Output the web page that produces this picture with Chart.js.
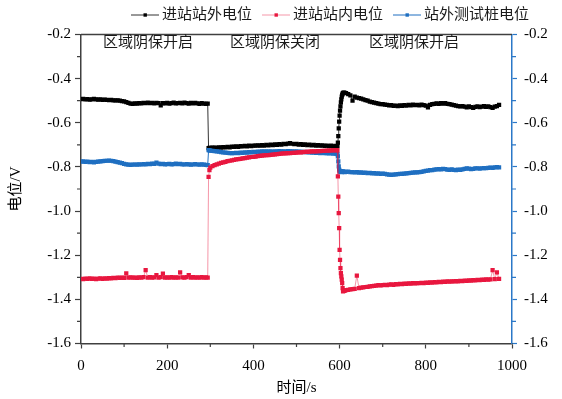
<!DOCTYPE html>
<html>
<head>
<meta charset="utf-8">
<script src="https://cdn.jsdelivr.net/npm/chart.js@4/dist/chart.umd.min.js"></script>
<style>
  body { margin: 0; background: #fff; }
  canvas { display: block; }
</style>
</head>
<body>
<canvas id="chart" width="562" height="399"></canvas>
<script>
// time in seconds, shared by all three series
const times = [
  0,5,10,15,20,25,30,35,40,45,
  50,55,60,65,70,75,80,85,90,95,
  100,105,110,115,120,125,130,135,140,145,
  150,155,160,165,170,175,180,185,190,195,
  200,205,210,215,220,225,230,235,240,245,
  250,255,260,265,270,275,280,285,290,
  294,296,298,
  300,305,310,315,320,325,330,335,340,345,
  350,355,360,365,370,375,380,385,390,395,
  400,405,410,415,420,425,430,435,440,445,
  450,455,460,465,470,475,480,485,490,495,
  500,505,510,515,520,525,530,535,540,545,
  550,555,560,565,570,575,580,585,590,
  593,595,596,597,598,599,600,601,602,603,604,605,606,607,608,610,612,615,
  620,625,630,635,640,645,650,655,660,665,
  670,675,680,685,690,695,700,705,710,715,
  720,725,730,735,740,745,750,755,760,765,
  770,775,780,785,790,795,800,805,810,815,
  820,825,830,835,840,845,850,855,860,865,
  870,875,880,885,890,895,900,905,910,915,
  920,925,930,935,940,945,950,955,960,965,
  970
];

// 进站站外电位
const outsideValues = [
  -0.493,-0.492,-0.494,-0.493,-0.495,-0.494,-0.492,-0.494,-0.495,-0.494,
  -0.496,-0.495,-0.496,-0.497,-0.496,-0.498,-0.499,-0.498,-0.500,-0.502,
  -0.503,-0.506,-0.510,-0.513,-0.514,-0.512,-0.513,-0.511,-0.512,-0.510,
  -0.511,-0.509,-0.511,-0.510,-0.512,-0.510,-0.511,-0.521,-0.511,-0.512,
  -0.510,-0.513,-0.511,-0.509,-0.512,-0.511,-0.510,-0.512,-0.509,-0.511,
  -0.513,-0.510,-0.512,-0.510,-0.512,-0.514,-0.511,-0.513,-0.514,
  -0.513,-0.715,-0.714,
  -0.714,-0.713,-0.712,-0.714,-0.711,-0.712,-0.710,-0.711,-0.709,-0.711,
  -0.708,-0.709,-0.707,-0.709,-0.706,-0.707,-0.705,-0.707,-0.704,-0.706,
  -0.703,-0.704,-0.702,-0.704,-0.701,-0.703,-0.700,-0.702,-0.699,-0.701,
  -0.698,-0.700,-0.697,-0.699,-0.695,-0.697,-0.694,-0.692,-0.695,-0.697,
  -0.696,-0.699,-0.697,-0.700,-0.698,-0.701,-0.699,-0.702,-0.700,-0.703,
  -0.701,-0.704,-0.702,-0.705,-0.703,-0.706,-0.704,-0.707,-0.705,
  -0.707,-0.706,-0.690,-0.660,-0.625,-0.595,-0.568,-0.545,-0.526,-0.508,-0.494,-0.482,-0.474,-0.468,-0.465,-0.463,-0.464,-0.466,
  -0.470,-0.476,-0.500,-0.482,-0.486,-0.488,-0.491,-0.494,-0.497,-0.500,
  -0.504,-0.506,-0.509,-0.511,-0.513,-0.515,-0.516,-0.518,-0.519,-0.521,
  -0.520,-0.523,-0.522,-0.524,-0.521,-0.523,-0.520,-0.522,-0.519,-0.521,
  -0.518,-0.520,-0.519,-0.521,-0.518,-0.520,-0.522,-0.530,-0.519,-0.516,
  -0.514,-0.512,-0.514,-0.511,-0.513,-0.511,-0.514,-0.516,-0.518,-0.520,
  -0.522,-0.524,-0.526,-0.524,-0.527,-0.530,-0.526,-0.529,-0.532,-0.528,
  -0.526,-0.529,-0.527,-0.525,-0.528,-0.526,-0.529,-0.533,-0.527,-0.524,
  -0.519
];

// 进站站内电位
const insideValues = [
  -1.307,-1.308,-1.306,-1.307,-1.305,-1.307,-1.306,-1.308,-1.306,-1.305,
  -1.307,-1.305,-1.306,-1.304,-1.305,-1.303,-1.304,-1.302,-1.303,-1.301,
  -1.303,-1.282,-1.302,-1.300,-1.302,-1.301,-1.303,-1.300,-1.302,-1.299,
  -1.268,-1.301,-1.299,-1.302,-1.300,-1.290,-1.301,-1.299,-1.283,-1.301,
  -1.300,-1.302,-1.299,-1.301,-1.300,-1.302,-1.278,-1.300,-1.302,-1.299,
  -1.290,-1.301,-1.299,-1.302,-1.300,-1.301,-1.299,-1.301,-1.300,
  -1.301,-0.845,-0.815,
  -0.803,-0.796,-0.792,-0.788,-0.785,-0.782,-0.779,-0.777,-0.774,-0.772,
  -0.770,-0.768,-0.766,-0.765,-0.763,-0.761,-0.760,-0.758,-0.757,-0.755,
  -0.754,-0.753,-0.751,-0.750,-0.749,-0.748,-0.747,-0.746,-0.745,-0.744,
  -0.743,-0.742,-0.741,-0.740,-0.739,-0.739,-0.738,-0.737,-0.736,-0.736,
  -0.735,-0.734,-0.734,-0.733,-0.732,-0.732,-0.731,-0.730,-0.730,-0.729,
  -0.728,-0.728,-0.727,-0.727,-0.726,-0.726,-0.725,-0.725,-0.724,
  -0.724,-0.725,-0.843,-0.934,-1.009,-1.077,-1.176,-1.221,-1.259,-1.281,-1.296,-1.311,-1.326,-1.349,-1.364,-1.362,-1.360,-1.358,
  -1.357,-1.355,-1.354,-1.352,-1.292,-1.349,-1.347,-1.346,-1.344,-1.343,
  -1.341,-1.340,-1.339,-1.338,-1.336,-1.337,-1.335,-1.334,-1.335,-1.333,
  -1.332,-1.334,-1.331,-1.332,-1.330,-1.331,-1.329,-1.330,-1.328,-1.329,
  -1.327,-1.328,-1.326,-1.327,-1.325,-1.326,-1.324,-1.325,-1.323,-1.324,
  -1.322,-1.323,-1.321,-1.322,-1.320,-1.321,-1.319,-1.320,-1.318,-1.319,
  -1.317,-1.318,-1.316,-1.317,-1.315,-1.316,-1.314,-1.315,-1.313,-1.314,
  -1.312,-1.313,-1.311,-1.312,-1.310,-1.311,-1.309,-1.268,-1.308,-1.278,
  -1.307
];

// 站外测试桩电位
const pileValues = [
  -0.776,-0.775,-0.777,-0.776,-0.778,-0.777,-0.779,-0.777,-0.776,-0.775,
  -0.774,-0.773,-0.772,-0.771,-0.772,-0.774,-0.776,-0.778,-0.781,-0.783,
  -0.786,-0.788,-0.790,-0.791,-0.790,-0.789,-0.790,-0.788,-0.789,-0.787,
  -0.788,-0.786,-0.787,-0.785,-0.786,-0.780,-0.785,-0.787,-0.786,-0.788,
  -0.787,-0.786,-0.788,-0.787,-0.785,-0.787,-0.786,-0.788,-0.789,-0.787,
  -0.788,-0.790,-0.789,-0.787,-0.789,-0.790,-0.788,-0.790,-0.791,
  -0.792,-0.724,-0.725,
  -0.726,-0.727,-0.728,-0.730,-0.731,-0.733,-0.734,-0.735,-0.736,-0.737,
  -0.738,-0.737,-0.736,-0.737,-0.735,-0.736,-0.734,-0.735,-0.733,-0.734,
  -0.732,-0.733,-0.731,-0.732,-0.730,-0.731,-0.729,-0.731,-0.730,-0.732,
  -0.729,-0.731,-0.728,-0.730,-0.729,-0.731,-0.728,-0.730,-0.729,-0.731,
  -0.730,-0.732,-0.731,-0.733,-0.732,-0.734,-0.733,-0.735,-0.734,-0.736,
  -0.735,-0.737,-0.736,-0.738,-0.737,-0.739,-0.738,-0.740,-0.739,
  -0.740,-0.742,-0.752,-0.775,-0.798,-0.812,-0.818,-0.821,-0.820,-0.822,-0.821,-0.823,-0.822,-0.820,-0.822,-0.821,-0.823,-0.822,
  -0.821,-0.823,-0.824,-0.825,-0.824,-0.826,-0.825,-0.827,-0.826,-0.828,
  -0.827,-0.829,-0.828,-0.830,-0.829,-0.831,-0.830,-0.832,-0.834,-0.835,
  -0.836,-0.835,-0.834,-0.833,-0.832,-0.831,-0.830,-0.829,-0.828,-0.827,
  -0.826,-0.825,-0.825,-0.824,-0.822,-0.820,-0.818,-0.817,-0.815,-0.814,
  -0.812,-0.811,-0.810,-0.811,-0.809,-0.810,-0.812,-0.813,-0.811,-0.813,
  -0.814,-0.812,-0.813,-0.811,-0.809,-0.807,-0.808,-0.810,-0.809,-0.807,
  -0.806,-0.808,-0.806,-0.805,-0.806,-0.804,-0.803,-0.804,-0.802,-0.801,
  -0.802
];

const seriesLabels = ['进站站外电位', '进站站内电位', '站外测试桩电位'];
const zoneLabels = ['区域阴保开启', '区域阴保关闭', '区域阴保开启'];
const xTickValues = [0, 200, 400, 600, 800, 1000];
const yTickValues = [-1.6, -1.4, -1.2, -1.0, -0.8, -0.6, -0.4, -0.2];

const seriesColors = ['#000000', '#e8173f', '#1f6fc1'];
const lineColors = ['#333333', 'rgba(232,23,63,0.45)', '#1f6fc1'];
const axisColor = '#404040';
const rightAxisColor = '#2b78c8';
const cjkFont = '"Liberation Serif", "Noto Sans CJK SC"';

function makeSeries(values, i, order) {
    return {
        label: seriesLabels[i],
        data: times.map((t, k) => ({ x: t, y: values[k] })),
        borderColor: lineColors[i],
        borderWidth: 1,
        backgroundColor: seriesColors[i],
        pointStyle: 'rect',
        pointRadius: 3,
        pointBorderWidth: 0,
        pointBackgroundColor: seriesColors[i],
        order: order,
    };
}

// minor ticks, top frame, zone labels and the legend
const extras = {
    id: 'extras',
    afterDraw(chart) {
        const ctx = chart.ctx;
        const area = chart.chartArea;
        const x = chart.scales.x;
        const y = chart.scales.y;
        ctx.save();

        ctx.strokeStyle = axisColor;
        ctx.lineWidth = 1.5;
        ctx.beginPath();
        ctx.moveTo(area.left, area.top);
        ctx.lineTo(area.right, area.top);
        ctx.stroke();

        ctx.lineWidth = 1.2;
        ctx.beginPath();
        for (let v = 100; v < 1000; v += 200) {
            const px = x.getPixelForValue(v);
            ctx.moveTo(px, area.bottom);
            ctx.lineTo(px, area.bottom + 3.5);
        }
        for (let v = -1.5; v < -0.2; v += 0.2) {
            const py = y.getPixelForValue(v);
            ctx.moveTo(area.left - 4, py);
            ctx.lineTo(area.left, py);
        }
        ctx.stroke();

        ctx.strokeStyle = rightAxisColor;
        ctx.beginPath();
        for (let v = -1.5; v < -0.2; v += 0.2) {
            const py = y.getPixelForValue(v);
            ctx.moveTo(area.right, py);
            ctx.lineTo(area.right + 4, py);
        }
        ctx.stroke();

        ctx.fillStyle = '#1a1a1a';
        ctx.font = '15px ' + cjkFont;
        ctx.textBaseline = 'middle';
        const zoneX = [103, 230, 369];
        zoneLabels.forEach((txt, i) => ctx.fillText(txt, zoneX[i], 43.5));

        const legendX = [131, 262, 393];
        seriesLabels.forEach((txt, i) => {
            const lx = legendX[i];
            ctx.strokeStyle = lineColors[i];
            ctx.lineWidth = 1;
            ctx.beginPath();
            ctx.moveTo(lx, 15);
            ctx.lineTo(lx + 28, 15);
            ctx.stroke();
            ctx.fillStyle = seriesColors[i];
            ctx.fillRect(lx + 12.5, 13.3, 3.4, 3.4);
            ctx.fillStyle = '#1a1a1a';
            ctx.fillText(txt, lx + 31, 15.5);
        });
        ctx.restore();
    }
};

new Chart(document.getElementById('chart'), {
    type: 'line',
    data: {
        datasets: [
            makeSeries(outsideValues, 0, 2),
            makeSeries(insideValues, 1, 0),
            makeSeries(pileValues, 2, 1),
        ]
    },
    options: {
        responsive: false,
        animation: false,
        layout: { padding: { top: 34.5, left: 0, right: 0, bottom: 0 } },
        plugins: { legend: { display: false }, tooltip: { enabled: false } },
        scales: {
            x: {
                type: 'linear',
                min: 0,
                max: 1000,
                afterBuildTicks: s => { s.ticks = xTickValues.map(v => ({ value: v })); },
                afterFit: s => { s.height = 55.5; },
                ticks: { color: '#000', padding: 9, font: { family: '"Liberation Serif"', size: 15 }, callback: v => String(v) },
                grid: { drawOnChartArea: false, tickLength: 5, tickWidth: 1.2, tickColor: axisColor },
                border: { color: axisColor, width: 1.5 },
                title: { display: true, text: '时间/s', color: '#000', font: { family: cjkFont, size: 15 }, padding: { top: 0, bottom: 2 } },
            },
            y: {
                position: 'left',
                min: -1.6,
                max: -0.2,
                afterBuildTicks: s => { s.ticks = yTickValues.map(v => ({ value: v })); },
                afterFit: s => { s.width = 81; },
                ticks: { color: '#000', padding: 4, font: { family: '"Liberation Serif"', size: 15 }, callback: v => v.toFixed(1) },
                grid: { drawOnChartArea: false, tickLength: 6, tickWidth: 1.2, tickColor: axisColor },
                border: { color: axisColor, width: 1.5 },
                title: { display: true, text: '电位/V', color: '#000', font: { family: cjkFont, size: 15 }, padding: { top: 7, bottom: 0 } },
            },
            y2: {
                position: 'right',
                min: -1.6,
                max: -0.2,
                afterBuildTicks: s => { s.ticks = yTickValues.map(v => ({ value: v })); },
                afterFit: s => { s.width = 50; },
                ticks: { color: '#000', padding: 7, font: { family: '"Liberation Serif"', size: 15 }, callback: v => v.toFixed(1) },
                grid: { drawOnChartArea: false, tickLength: 5, tickWidth: 1.2, tickColor: rightAxisColor },
                border: { color: rightAxisColor, width: 1.5 },
            }
        }
    },
    plugins: [extras]
});
</script>
</body>
</html>
